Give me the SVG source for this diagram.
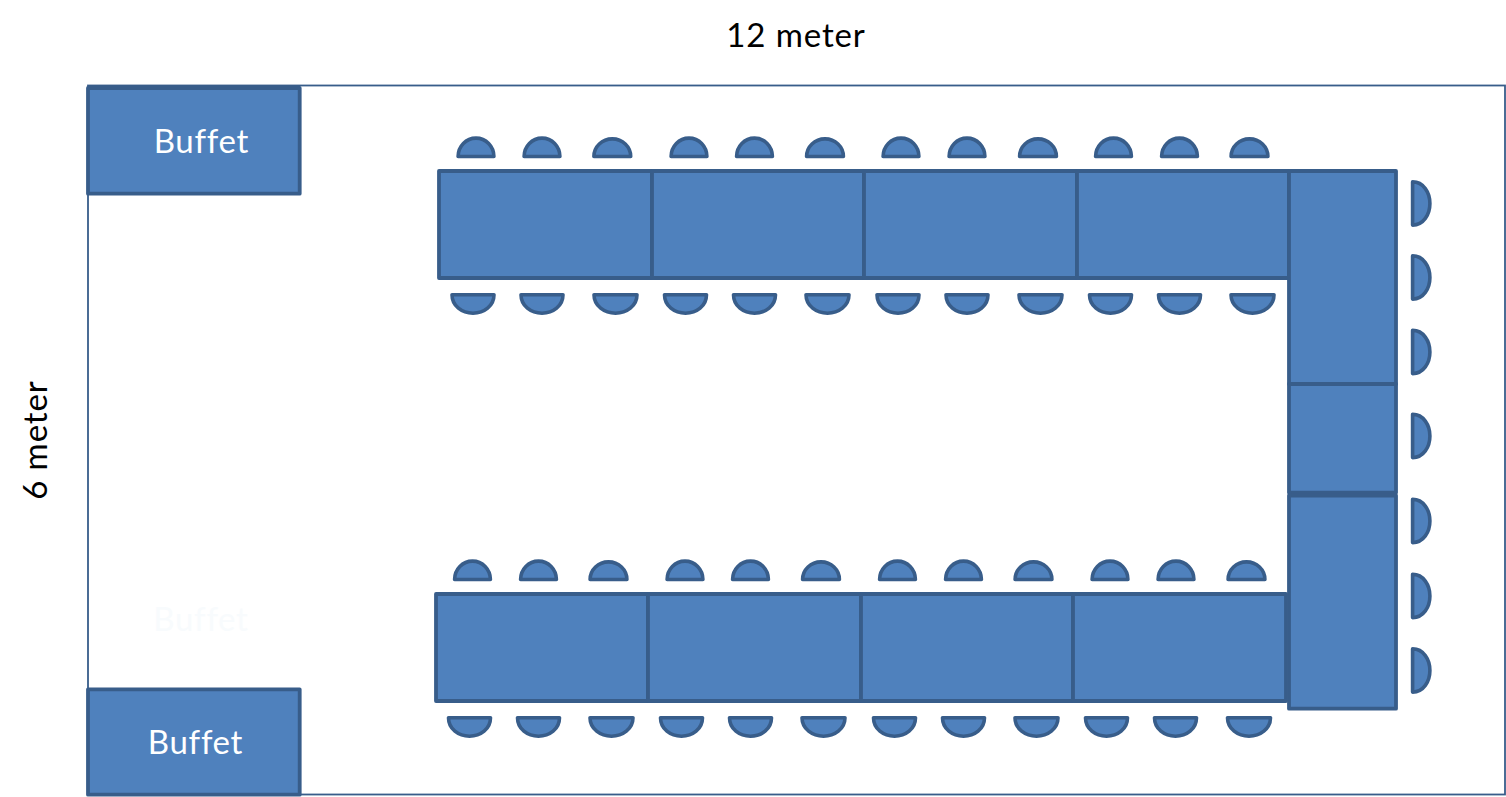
<svg xmlns="http://www.w3.org/2000/svg" width="1506" height="797" viewBox="0 0 1506 797">
<style>
.s{fill:#4f81bd;stroke:#385d8a;stroke-width:3.8;stroke-linejoin:round}
.c{fill:#4f81bd;stroke:#385d8a;stroke-width:3.6;stroke-linejoin:round}
.t{font-family:Lato,"Open Sans",sans-serif;font-size:33px;text-anchor:middle;letter-spacing:.9px}
.b{letter-spacing:.7px}
.w{fill:#fff}
.k{fill:#000}
</style>
<defs>
<path id="u" d="M-17.900 8.500A17.900 18.400 0 0 1 17.900 8.500Z" class="c"/>
<path id="v" d="M-18.400 8.500A18.400 17.600 0 0 1 18.400 8.500Z" class="c"/>
<path id="d" d="M-21 -9.200H21C21 2 11 9.200 0 9.200C-11 9.200 -21 2 -21 -9.200Z" class="c"/>
<path id="e" d="M-21.500 -9.200H21.500C21.500 2 11 9.200 0 9.200C-11 9.200 -21.500 2 -21.500 -9.200Z" class="c"/>
<path id="r" d="M-8.400 -21.600C2.500 -21.600 8.900 -11 8.900 0C8.900 11 2.500 21.600 -8.400 21.600Z" class="c"/>
</defs>
<rect width="1506" height="797" fill="#fff"/>
<rect id="room" x="88" y="85.500" width="1417" height="709" fill="#fff" stroke="#385d8a" stroke-width="1.800"/>
<g id="buffet-top"><rect class="s" x="88" y="88" width="211.700" height="105.700"/><text class="t b w" x="201.300" y="153.300">Buffet</text></g>
<g id="buffet-bottom"><rect class="s" x="88" y="689.300" width="211.700" height="105.400"/><text class="t b w" x="195.500" y="753.500">Buffet</text></g>
<text class="t b" x="201" y="631" fill="#f8fbfd">Buffet</text>
<text id="width-label" class="t k" x="796" y="47">12 meter</text>
<text id="height-label" class="t k" transform="translate(47 440) rotate(-90)">6 meter</text>
<g id="tables">
<rect class="s" x="439" y="171" width="213" height="107"/><rect class="s" x="652" y="171" width="212" height="107"/><rect class="s" x="864" y="171" width="213" height="107"/><rect class="s" x="1077" y="171" width="212" height="107"/>
<rect class="s" x="436" y="594" width="212" height="107"/><rect class="s" x="648" y="594" width="213" height="107"/><rect class="s" x="861" y="594" width="212" height="107"/><rect class="s" x="1073" y="594" width="213" height="107"/>
<rect class="s" x="1289" y="171" width="107" height="213"/><rect class="s" x="1289" y="384" width="107" height="108.700"/><rect class="s" x="1289" y="495.500" width="107" height="213.200"/>
</g>
<g id="chairs">
<use href="#u" x="476" y="148"/><use href="#u" x="542" y="148"/><use href="#v" x="612.300" y="148"/><use href="#u" x="689" y="148"/><use href="#u" x="754.500" y="148"/><use href="#v" x="825" y="148"/><use href="#u" x="901" y="148"/><use href="#u" x="967" y="148"/><use href="#v" x="1038" y="148"/><use href="#u" x="1113.500" y="148"/><use href="#u" x="1179.500" y="148"/><use href="#v" x="1249.500" y="148"/>
<use href="#u" x="472.500" y="571"/><use href="#u" x="538.500" y="571"/><use href="#v" x="608.500" y="571"/><use href="#u" x="685" y="571"/><use href="#u" x="750.500" y="571"/><use href="#v" x="821" y="571"/><use href="#u" x="897.500" y="571"/><use href="#u" x="963.500" y="571"/><use href="#v" x="1033.500" y="571"/><use href="#u" x="1110" y="571"/><use href="#u" x="1176" y="571"/><use href="#v" x="1246.500" y="571"/>
<use href="#d" x="473" y="304"/><use href="#d" x="542" y="304"/><use href="#e" x="615.500" y="304"/><use href="#d" x="685.500" y="304"/><use href="#d" x="754.500" y="304"/><use href="#e" x="827.500" y="304"/><use href="#d" x="898" y="304"/><use href="#d" x="967" y="304"/><use href="#e" x="1040.500" y="304"/><use href="#d" x="1110.500" y="304"/><use href="#d" x="1179.500" y="304"/><use href="#e" x="1252.500" y="304"/>
<use href="#d" x="469.500" y="727"/><use href="#d" x="538.500" y="727"/><use href="#e" x="611.500" y="727"/><use href="#d" x="681.500" y="727"/><use href="#d" x="750.500" y="727"/><use href="#e" x="823.500" y="727"/><use href="#d" x="894.500" y="727"/><use href="#d" x="963.500" y="727"/><use href="#e" x="1036.500" y="727"/><use href="#d" x="1106.500" y="727"/><use href="#d" x="1175.500" y="727"/><use href="#e" x="1249" y="727"/>
<use href="#r" x="1421" y="203.500"/><use href="#r" x="1421" y="277.500"/><use href="#r" x="1421" y="352"/><use href="#r" x="1421" y="436"/><use href="#r" x="1421" y="521"/><use href="#r" x="1421" y="596"/><use href="#r" x="1421" y="670.500"/>
</g>
</svg>
